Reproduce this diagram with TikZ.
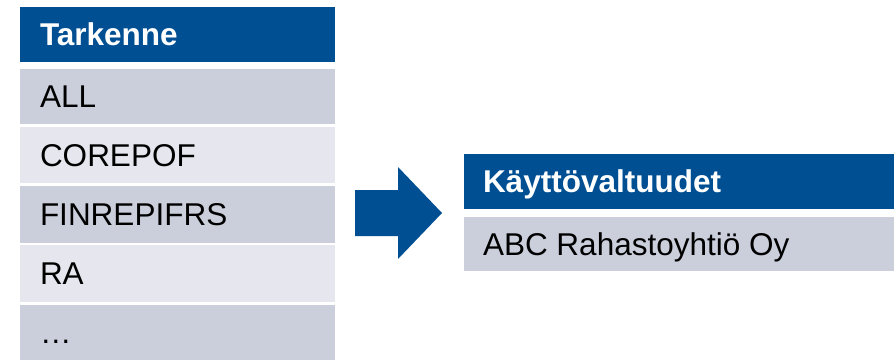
\documentclass[tikz,border=0pt]{standalone}
\usepackage{fontspec}
\setmainfont{Liberation Sans}
\definecolor{hdr}{HTML}{004F93}
\definecolor{rowd}{HTML}{CBCFDC}
\definecolor{rowl}{HTML}{E6E7EE}
\begin{document}
\begin{tikzpicture}[x=1pt,y=-1pt,
  box/.style={rectangle, inner sep=0pt, outer sep=0pt, anchor=north west, minimum width=315pt, minimum height=55pt},
  hbox/.style={box, fill=hdr},
  dbox/.style={box, fill=rowd},
  lbox/.style={box, fill=rowl},
  txt/.style={anchor=base west, inner sep=0pt, outer sep=0pt, font=\fontsize{31.5}{36}\selectfont},
  htxt/.style={txt, font=\fontsize{31.5}{36}\selectfont\bfseries, text=white}]
\useasboundingbox[fill=white] (0,0) rectangle (894,359);
% left table
\node[hbox] (h1) at (20,7) {};
\node[dbox] (r1) at (20,69) {};
\node[lbox, minimum height=56pt] (r2) at (20,127) {};
\node[dbox, minimum height=57pt] (r3) at (20,186) {};
\node[lbox, minimum height=57pt] (r4) at (20,245) {};
\node[dbox] (r5) at (20,305) {};
\node[htxt] (t1) at ([xshift=20pt,yshift=-11.4pt]h1.west) {Tarkenne};
\node[txt] (t2) at ([xshift=20pt,yshift=-11.4pt]r1.west) {ALL};
\node[txt] (t3) at ([xshift=20pt,yshift=-11.4pt]r2.west) {COREPOF};
\node[txt] (t4) at ([xshift=20pt,yshift=-11.4pt]r3.west) {FINREPIFRS};
\node[txt] (t5) at ([xshift=20pt,yshift=-11.4pt]r4.west) {RA};
\node[txt] (t6) at ([xshift=20pt,yshift=-11.4pt]r5.west) {…};
% arrow
\fill[hdr] (355,190) -- (398,190) -- (398,167) -- (442,213) -- (398,259) -- (398,236) -- (355,236) -- cycle;
% right table
\node[hbox, minimum width=430pt] (h2) at (464,154) {};
\node[dbox, minimum width=430pt, minimum height=54pt] (s1) at (464,217) {};
\node[htxt] (u1) at ([xshift=19pt,yshift=-11.4pt]h2.west) {Käyttövaltuudet};
\node[txt] (u2) at ([xshift=19pt,yshift=-11.4pt]s1.west) {ABC Rahastoyhtiö Oy};
\end{tikzpicture}
\end{document}
